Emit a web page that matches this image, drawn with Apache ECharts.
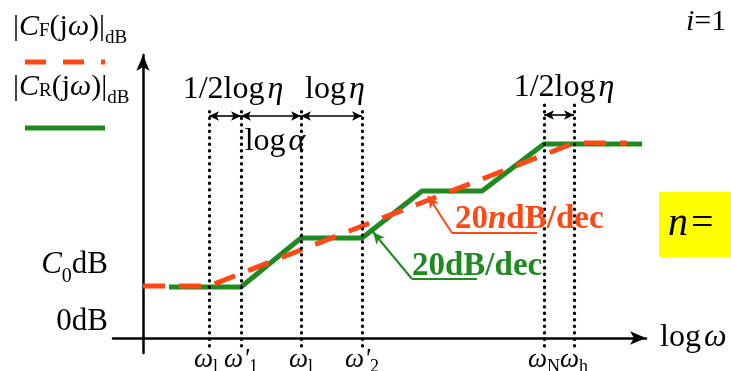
<!DOCTYPE html>
<html>
<head>
<meta charset="utf-8">
<script src="https://cdn.jsdelivr.net/npm/echarts@6/dist/echarts.min.js"></script>
<style>html,body{margin:0;padding:0;background:#fff;}#c{width:731px;height:371px;}</style>
</head>
<body>
<div id="c"></div>
<script>
// ---- data (axis units: x = log ω, y = magnitude in arbitrary dB units) ----
const greenX = [2.6, 9.8, 15.8, 21.9, 27.9, 33.9, 40.1, 49.9];
const greenY = [5.1, 5.1, 10.0, 10.0, 14.7, 14.7, 19.4, 19.4];
const redX = [0, 6.6, 43.1, 48.4];
const redY = [5.2, 5.2, 19.5, 19.5];
const guideX = [6.6, 9.8, 15.8, 21.9, 40.1, 43.1];
const guideTop = [23.1, 23.1, 23.1, 23.1, 23.5, 23.5];
const guideBottom = -0.8;
const dimFrom = [6.6, 9.8, 15.8, 40.1];
const dimTo = [9.8, 15.8, 21.9, 43.1];
const dimY = [22.2, 22.2, 22.2, 22.3];
const xTickValues = [6.6, 9.8, 15.8, 21.9, 40.1, 43.1];
const xTickMain = ['ω', "ω'", 'ω', "ω'", 'ω', 'ω'];
const xTickSub = ['l', '1', 'l', '2', 'N', 'h'];
const yTickValues = [1.6, 7.3];
const yTickLabels = ['0dB', 'C0dB'];
// pointer lines: [underline start x, underline end x, y, tip x, tip y]
const redPointer = [30.9, 39.4, 10.5, 28.5, 14.2];
const greenPointer = [26.9, 33.4, 5.9, 23.0, 10.6];

const GREEN = '#1f8a1f';
const RED = '#ff4813';
const SERIF = '"Liberation Serif", "DejaVu Serif", serif';

const chart = echarts.init(document.getElementById('c'), null, {renderer: 'canvas'});

// rich text styles: m = roman, i = italic, s = lowered subscript, f = small at baseline, g = thin gap
function richSet(size, sub, drop, colorKey) {
  const L = size + 4;
  const base = L / 2 + 0.32 * size;              // main baseline from line top
  const subCenter = base + drop - 0.32 * sub;     // subscript centre from line top
  const fCenter = base - 0.32 * sub;
  const col = colorKey || '#000';
  const t = {fontFamily: SERIF, color: col, fill: col};
  return {
    m: Object.assign({}, t, {fontSize: size, lineHeight: L, verticalAlign: 'middle'}),
    i: Object.assign({}, t, {fontSize: size, fontStyle: 'italic', lineHeight: L, verticalAlign: 'middle'}),
    s: Object.assign({}, t, {fontSize: sub, lineHeight: 4, verticalAlign: 'top', padding: [Math.max(0, subCenter - sub / 2), 0, 0, 0]}),
    f: Object.assign({}, t, {fontSize: sub, lineHeight: 4, verticalAlign: 'top', padding: [Math.max(0, fCenter - sub / 2), 0, 0, 0]}),
    g: Object.assign({}, t, {fontSize: size, lineHeight: L, verticalAlign: 'middle', width: 3})
  };
}

const markData = [];
guideX.forEach((x, k) => {
  markData.push([
    {coord: [x, guideBottom], symbol: 'none', lineStyle: {color: '#000', width: 3.2, type: [0.5, 6], cap: 'round'}},
    {coord: [x, guideTop[k]], symbol: 'none'}
  ]);
});
dimFrom.forEach((x, k) => {
  markData.push([
    {coord: [x, dimY[k]], symbol: 'arrow', symbolSize: [7, 10], lineStyle: {color: '#000', width: 1.6, type: 'solid'}},
    {coord: [dimTo[k], dimY[k]], symbol: 'arrow', symbolSize: [7, 10]}
  ]);
});
[[redPointer, RED], [greenPointer, GREEN]].forEach(([p, c]) => {
  markData.push([
    {coord: [p[0], p[2]], symbol: 'none', lineStyle: {color: c, width: 2, type: 'solid'}},
    {coord: [p[1], p[2]], symbol: 'none'}
  ]);
  markData.push([
    {coord: [p[0], p[2]], symbol: 'none', lineStyle: {color: c, width: 2, type: 'solid'}},
    {coord: [p[3], p[4]], symbol: 'arrow', symbolSize: [8, 12]}
  ]);
});

function gtext(x, y, text, rich, align) {
  return {type: 'text', x: x, y: y, z: 50,
    style: {text: text, rich: rich, align: align || 'center', verticalAlign: 'middle', fontFamily: SERIF}};
}
const r30 = richSet(30, 19, 7);
const r30f = richSet(30, 19, 0);
const r32 = richSet(32, 20, 5);

const option = {
  animation: false,
  backgroundColor: '#fff',
  grid: {left: 113, right: 85, top: 55, bottom: 18, outerBoundsMode: 'none', containLabel: false},
  xAxis: {
    type: 'value', min: -3, max: 50.3,
    splitLine: {show: false}, axisTick: {show: false},
    axisLine: {onZero: true, symbol: ['none', 'arrow'], symbolSize: [10, 16], lineStyle: {color: '#000', width: 2.5}},
    axisLabel: {
      customValues: xTickValues, margin: -9, hideOverlap: false, interval: 0,
      showMinLabel: true, showMaxLabel: true,
      formatter: function (v) {
        let k = xTickValues.findIndex(t => Math.abs(t - v) < 1e-6);
        if (k < 0) return '';
        let s = '{i|' + xTickMain[k] + '}{s|' + xTickSub[k] + '}';
        if (k === 0) s += '{pad| }';
        return s;
      },
      rich: Object.assign(richSet(27, 18, 5), {pad: {width: 6, fontSize: 10, lineHeight: 4}})
    },
    name: '{m|log}{g| }{i|ω}', nameLocation: 'end', nameGap: 14,
    nameTextStyle: {rich: richSet(32, 20, 5), align: 'left', verticalAlign: 'middle'}
  },
  yAxis: {
    type: 'value', min: -1.5, max: 28.3,
    splitLine: {show: false}, axisTick: {show: false},
    axisLine: {onZero: true, symbol: ['none', 'arrow'], symbolSize: [10, 16], lineStyle: {color: '#000', width: 2.5}},
    axisLabel: {
      customValues: yTickValues, margin: 5, hideOverlap: false,
      showMinLabel: true, showMaxLabel: true,
      formatter: function (v) {
        let k = yTickValues.findIndex(t => Math.abs(t - v) < 1e-6);
        if (k < 0) return '';
        const t = yTickLabels[k];
        if (t.charAt(0) === 'C') return '{i|C}{s|' + t.charAt(1) + '}{m|' + t.slice(2) + '}';
        return '{m|' + t + '}';
      },
      rich: richSet(31, 20, 8)
    }
  },
  series: [
    {type: 'line', data: greenX.map((x, k) => [x, greenY[k]]), symbol: 'none', z: 3,
     lineStyle: {color: GREEN, width: 5}},
    {type: 'line', data: redX.map((x, k) => [x, redY[k]]), symbol: 'none', z: 4,
     lineStyle: {color: RED, width: 5, type: [22, 14]}},
    {type: 'line', data: [], z: 5,
     markLine: {silent: true, animation: false, label: {show: false}, data: markData}}
  ],
  graphic: [
    gtext(13, 27, '{m||}{i|C}{f|F}{m|(j}{i|ω}{m|)|}{s|dB}', r30, 'left'),
    {type: 'line', shape: {x1: 25, y1: 62, x2: 105, y2: 62}, style: {stroke: RED, lineWidth: 5, lineDash: [21, 17]}},
    gtext(13, 87, '{m||}{i|C}{f|R}{m|(j}{i|ω}{m|)|}{s|dB}', r30, 'left'),
    {type: 'line', shape: {x1: 25, y1: 128, x2: 105, y2: 128}, style: {stroke: GREEN, lineWidth: 5}},
    gtext(233, 90, '{m|1/2log}{g| }{i|η}', r32),
    gtext(335, 90, '{m|log}{g| }{i|η}', r32),
    gtext(275, 142, '{m|log}{g| }{i|α}', r32),
    gtext(564, 88, '{m|1/2log}{g| }{i|η}', r32),
    {type: 'text', x: 455, y: 219, z: 50, style: {
      text: '{b|20}{bi|n}{b|dB/dec}', align: 'left', verticalAlign: 'middle',
      rich: {b: {fontFamily: SERIF, fontWeight: 'bold', fontSize: 33, fill: RED, color: RED},
             bi: {fontFamily: SERIF, fontWeight: 'bold', fontStyle: 'italic', fontSize: 33, fill: RED, color: RED}}}},
    {type: 'text', x: 412, y: 266, z: 50, style: {
      text: '20dB/dec', align: 'left', verticalAlign: 'middle',
      fontFamily: SERIF, fontWeight: 'bold', fontSize: 33, fill: GREEN}},
    {type: 'rect', shape: {x: 659, y: 192, width: 80, height: 65}, style: {fill: '#ffff00'}, z: 40},
    gtext(668, 224, '{i|n}{g| }{m|=}', richSet(40, 24, 0), 'left'),
    gtext(686, 22, '{i|i}{m|=1}', r30f, 'left')
  ]
};
chart.setOption(option);
</script>
</body>
</html>
